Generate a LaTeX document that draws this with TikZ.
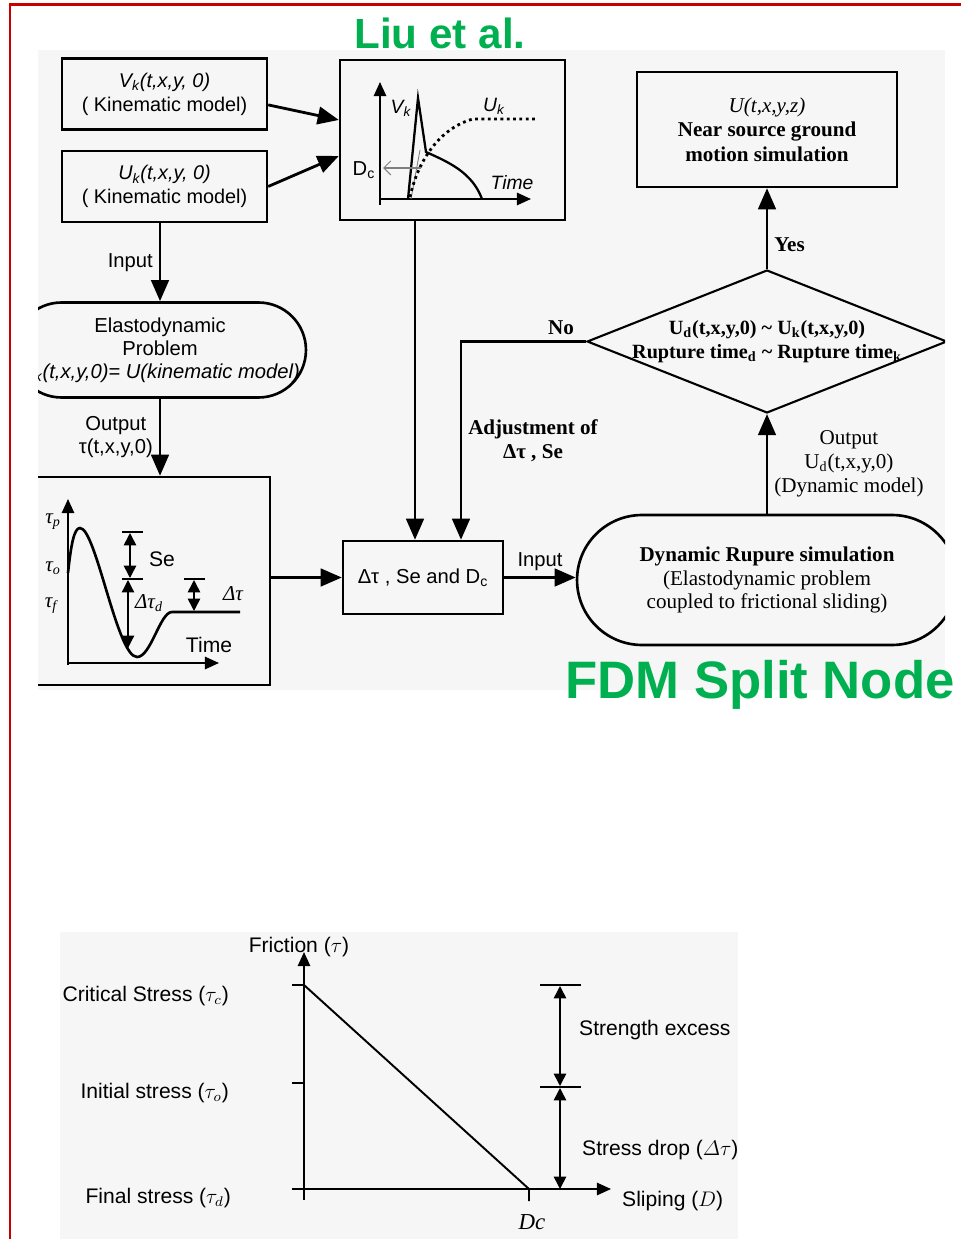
\documentclass[tikz,border=0pt]{standalone}
\usepackage{amsmath}
\usepackage{fontspec}
\setmainfont{Liberation Serif}
\setsansfont{Liberation Sans}
\usetikzlibrary{arrows.meta, shapes.geometric, positioning}
\definecolor{titlegreen}{RGB}{0,176,80}
\definecolor{framered}{RGB}{200,0,0}
\tikzset{
  flow/.style={line width=1.6pt, -{Triangle[length=12pt,width=10pt]}},
  box/.style={draw, line width=1.4pt, align=center, inner sep=0pt},
  kinbox/.style={box, minimum width=4.1cm, minimum height=1.42cm, font=\sffamily\fontsize{11.3}{13.6}\selectfont},
  stadium/.style={draw, line width=1.5pt, align=center},
  decision/.style={draw, diamond, line width=1.2pt, inner sep=0pt,
    minimum width=7.2cm, minimum height=2.86cm},
  serifbf/.style={font=\rmfamily\bfseries\fontsize{12}{14}\selectfont},
  serifrm/.style={font=\rmfamily\fontsize{12}{13.6}\selectfont},
  axis/.style={line width=1.1pt, -{Triangle[length=8pt,width=7pt]}},
  dimarrow/.style={line width=0.9pt, {Triangle[length=7pt,width=7pt]}-{Triangle[length=7pt,width=7pt]}},
  tick/.style={line width=0.8pt},
}
\begin{document}
\begin{tikzpicture}[x=0.02cm, y=-0.02cm, font=\sffamily\fontsize{11.5}{13}\selectfont]
  \useasboundingbox (0,0) rectangle (961,1239);
  % frame and page backgrounds
  \draw[framered, line width=1.7pt] (10,1239) -- (10,5) -- (961,5);
  \fill[gray!7] (38,50) rectangle (945,690);
  \fill[gray!7] (60,932) rectangle (738,1239);

  \begin{scope}
    \clip (38,50) rectangle (945,690);
    % nodes
    \node[kinbox] (vk) at (164.5,94) {\textit{V\textsubscript{k}(t,x,y, 0)}\\( Kinematic model)};
    \node[kinbox] (uk) at (164.5,186.5) {\textit{U\textsubscript{k}(t,x,y, 0)}\\( Kinematic model)};
    \node[box, minimum width=4.5cm, minimum height=3.2cm] (kgraph) at (452.5,140) {};
    \node[stadium, rounded corners=0.95cm, minimum width=5.84cm, minimum height=1.9cm] (elasto) at (160,350)
      {Elastodynamic\\Problem\\\textit{U\textsubscript{k}(t,x,y,0)= U(kinematic model)}};
    \node[box, minimum width=5cm, minimum height=4.16cm] (taubox) at (145,581) {};
    \node[box, minimum width=3.2cm, minimum height=1.46cm] (dbox) at (423,577.5) {Δτ , Se and D\textsubscript{c}};
    \node[stadium, rounded corners=1.3cm, minimum width=7.6cm, minimum height=2.6cm, serifrm] (dyn) at (767,580)
      {\textbf{Dynamic Rupure simulation}\\(Elastodynamic problem\\coupled to frictional sliding)};
    \node[decision] (dia) at (767,341.5) {};
    \node[align=center, font=\rmfamily\bfseries\fontsize{11.5}{14}\selectfont] (diatext) at (dia.center)
      {U\textsubscript{d}(t,x,y,0) \textasciitilde{} U\textsubscript{k}(t,x,y,0)\\Rupture time\textsubscript{d} \textasciitilde{} Rupture time\textsubscript{k}};
    \node[box, minimum width=5.2cm, minimum height=2.3cm, font=\rmfamily\bfseries\fontsize{12}{14}\selectfont] (ubox) at (767,129.5)
      {\textmd{\textit{U(t,x,y,z)}}\\Near source ground\\motion simulation};
    \coordinate (d1) at ([xshift=-0.16cm]dbox.north);
    \coordinate (d2) at ([xshift=0.76cm]dbox.north);

    % connectors
    \draw[flow] (vk.-6) -- (kgraph.170);
    \draw[flow] (uk.east) -- (kgraph.-172);
    \draw[flow] (uk.south -| elasto.north) -- node[left] {Input} (elasto.north);
    \draw[flow] (elasto.south) -- node[left, align=center] {Output\\τ(t,x,y,0)} (elasto.south |- taubox.north);
    \draw[flow] (taubox.east |- dbox.west) -- (dbox.west);
    \draw[flow] (kgraph.south -| d1) -- (d1);
    \draw[flow] (dia.west) -- node[above, pos=0.2, serifbf] {No} (dia.west -| d2)
      -- node[right, align=center, serifbf] {Adjustment of\\Δτ , Se} (d2);
    \draw[flow] (dbox.east) -- node[above] {Input} (dbox.east -| dyn.west);
    \draw[flow] (dyn.north) -- node[right, align=center, serifrm] {Output\\U\textsubscript{d}(t,x,y,0)\\(Dynamic model)} (dia.south);
    \draw[flow] (dia.north) -- node[right, pos=0.3, serifbf] {Yes} (ubox.south);

    % kinematic slip graph
    \draw[axis] (380,205) -- (380,82);
    \draw[axis] (380,199) -- (531,199);
    \draw[line width=1.3pt] (408,199) -- (418,98) -- (426,152)
      .. controls (448,162) and (472,172) .. (482,199);
    \draw[line width=0.5pt, gray] (411,199) -- (420,150);
    \draw[line width=1.6pt, dotted] (410,197) .. controls (418,160) and (440,128) .. (473,119) -- (537,119);
    \draw[gray, line width=0.6pt, -{Straight Barb[length=4pt]}] (421,168) -- (383,168);
    \node[font=\sffamily\itshape\fontsize{11}{13}\selectfont] (vklab) at (401,108) {V\textsubscript{k}};
    \node[font=\sffamily\itshape\fontsize{11}{13}\selectfont] (uklab) at (494,106) {U\textsubscript{k}};
    \node (dclab) at (364,170) {D\textsubscript{c}};
    \node[font=\sffamily\itshape\fontsize{11}{13}\selectfont] (timek) at (512,183) {Time};

    % stress time history graph
    \draw[axis] (68,665) -- (68,499);
    \draw[axis] (68,663) -- (219,663);
    \draw[line width=1.5pt] (68,573) .. controls (71,545) and (74,528) .. (80,528)
      .. controls (96,528) and (117,657) .. (137,657)
      .. controls (151,657) and (160,612) .. (172,612) -- (240,612);
    \draw[tick] (122,532) -- (143,532);
    \draw[tick] (122,579) -- (143,579);
    \draw[tick] (184,579) -- (205,579);
    \draw[dimarrow] (130,533) -- (130,578);
    \draw[dimarrow, line width=0.7pt] (128,580) -- (128,648);
    \draw[dimarrow] (194,580) -- (194,611);
    \node[font=\rmfamily\itshape\fontsize{12}{14}\selectfont] (taup) at (53,522) {τ\textsubscript{p}};
    \node[font=\rmfamily\itshape\fontsize{12}{14}\selectfont] (tauo) at (53,568) {τ\textsubscript{o}};
    \node[font=\rmfamily\itshape\fontsize{12}{14}\selectfont] (tauf) at (51,606) {τ\textsubscript{f}};
    \node[font=\sffamily\fontsize{12}{14}\selectfont] (selab) at (162,559) {Se};
    \node[font=\rmfamily\itshape\fontsize{12}{14}\selectfont] (dtdlab) at (149,603) {Δτ\textsubscript{d}};
    \node[font=\rmfamily\itshape\fontsize{12}{14}\selectfont] (dtlab) at (233,594) {Δτ};
    \node[font=\sffamily\fontsize{12}{14}\selectfont] (timet) at (209,645) {Time};
  \end{scope}

  % titles
  \node[font=\sffamily\bfseries\fontsize{24}{28}\selectfont, text=titlegreen] (liu) at (440,33) {Liu et al.};
  \node[font=\sffamily\bfseries\fontsize{30}{34}\selectfont, text=titlegreen] (fdm) at (760,685) {FDM Split Node};

  % slip weakening law
  \begin{scope}[font=\sffamily\fontsize{12}{14}\selectfont]
  \coordinate (tc) at (304,985);
  \coordinate (dc) at (529,1189);
  \draw[axis] (304,1200) -- (304,952);
  \draw[axis] (292,1189) -- (611,1189);
  \draw[line width=1.1pt] (292,985) -- (tc) -- (dc) -- (529,1201);
  \draw[line width=1.1pt] (292,1083) -- (304,1083);
  \draw[tick] (540,985) -- (581,985);
  \draw[tick] (540,1087) -- (581,1087);
  \draw[dimarrow] (560,986) -- (560,1086);
  \draw[dimarrow] (560,1088) -- (560,1189);
  \node (fric) at (299,947) {Friction ($\tau$)};
  \node[anchor=east] (crit) at (235,996) {Critical Stress ($\tau_c$)};
  \node[anchor=east] (init) at (235,1093) {Initial stress ($\tau_o$)};
  \node[anchor=east] (fin) at (237,1198) {Final stress ($\tau_d$)};
  \node[anchor=west] (strex) at (573,1030) {Strength excess};
  \node[anchor=west] (sdrop) at (576,1150) {Stress drop ($\varDelta\tau$)};
  \node[anchor=west] (slip) at (616,1201) {Sliping ($D$)};
  \node[font=\rmfamily\itshape\fontsize{13}{15}\selectfont] (dclaw) at (532,1222) {Dc};
  \end{scope}
\end{tikzpicture}
\end{document}
